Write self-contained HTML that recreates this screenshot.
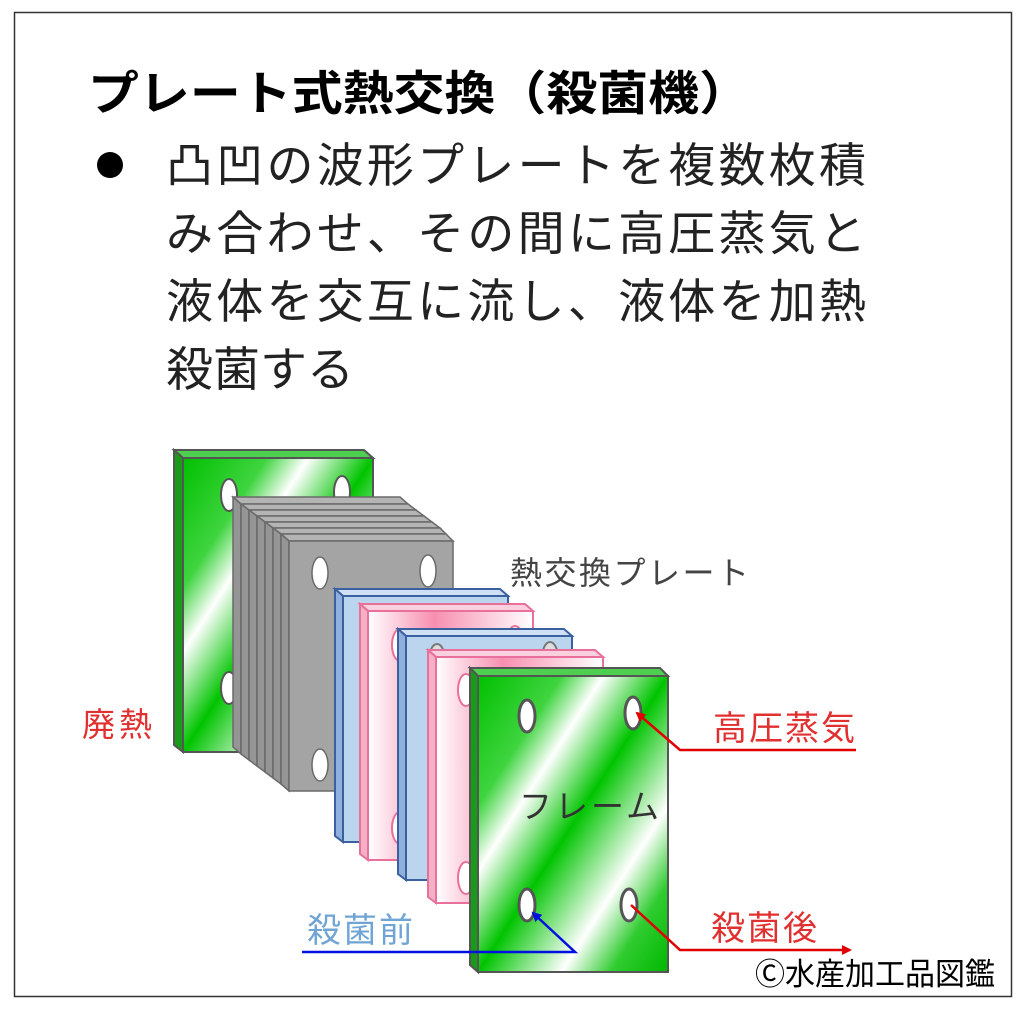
<!DOCTYPE html>
<html><head><meta charset="utf-8"><style>
html,body{margin:0;padding:0;background:#fff;}
svg{display:block;}
text{font-family:"Liberation Sans","Noto Sans CJK JP",sans-serif;}
</style></head><body>
<svg width="1024" height="1009" viewBox="0 0 1024 1009" xmlns="http://www.w3.org/2000/svg">
<defs>
<linearGradient id="g" x1="0" y1="0" x2="1" y2="1">
<stop offset="0" stop-color="#00c000"/><stop offset="0.22" stop-color="#3fd43f"/><stop offset="0.33" stop-color="#ffffff"/><stop offset="0.5" stop-color="#00c400"/><stop offset="0.72" stop-color="#ffffff"/><stop offset="0.85" stop-color="#30cc30"/><stop offset="1" stop-color="#00b800"/>
</linearGradient>
<linearGradient id="p" x1="0" y1="0" x2="1" y2="0">
<stop offset="0" stop-color="#ffffff"/><stop offset="0.4" stop-color="#f78fb0"/><stop offset="1" stop-color="#ffffff"/>
</linearGradient>
<marker id="ar" markerWidth="10" markerHeight="10" refX="8" refY="5" orient="auto" markerUnits="userSpaceOnUse"><path d="M0,0 L10,5 L0,10 z" fill="#e00000"/></marker>
<marker id="ab" markerWidth="10" markerHeight="10" refX="8" refY="5" orient="auto" markerUnits="userSpaceOnUse"><path d="M0,0 L10,5 L0,10 z" fill="#0010e0"/></marker>
</defs>
<rect x="14.5" y="12.5" width="997" height="984" fill="#fff" stroke="#333" stroke-width="1.5"/>
<text x="88" y="110" font-size="47" font-weight="bold" fill="#000" textLength="662" lengthAdjust="spacingAndGlyphs">プレート式熱交換（殺菌機）</text>
<circle cx="110" cy="165" r="13" fill="#000"/>
<g font-size="47" fill="#222">
<text x="166" y="182" textLength="700">凸凹の波形プレートを複数枚積</text>
<text x="166" y="250" textLength="700">み合わせ、その間に高圧蒸気と</text>
<text x="166" y="318" textLength="700">液体を交互に流し、液体を加熱</text>
<text x="166" y="386">殺菌する</text>
</g>

<g stroke="#555" stroke-width="2">
<polygon points="174,450 364,450 373,458 183,458" fill="#4fcf4f"/>
<polygon points="174,450 183,458 183,752 174,745" fill="#1a9a1a"/>
<rect x="183" y="458" width="190" height="294" fill="url(#g)"/>
<ellipse cx="229" cy="495" rx="8" ry="16" fill="#fff"/>
<ellipse cx="342" cy="492" rx="8" ry="16" fill="#fff"/>
<ellipse cx="229" cy="688" rx="8" ry="16" fill="#fff"/>
</g>
<g stroke="#6a6a6a" stroke-width="1.5" fill="#a8a8a8">
<polygon points="233,497 400,497 408,504 241,504" fill="#b4b4b4"/><polygon points="233,497 241,504 241,754 233,747" fill="#959595"/>
<polygon points="241,504 408,504 416,510 249,510" fill="#b4b4b4"/><polygon points="241,504 249,510 249,760 241,754" fill="#959595"/>
<polygon points="249,510 416,510 424,516 257,516" fill="#b4b4b4"/><polygon points="249,510 257,516 257,766 249,760" fill="#959595"/>
<polygon points="257,516 424,516 432,522 265,522" fill="#b4b4b4"/><polygon points="257,516 265,522 265,772 257,766" fill="#959595"/>
<polygon points="265,522 432,522 440,528 273,528" fill="#b4b4b4"/><polygon points="265,522 273,528 273,778 265,772" fill="#959595"/>
<polygon points="273,528 440,528 446,534 281,534" fill="#b4b4b4"/><polygon points="273,528 281,534 281,784 273,778" fill="#959595"/>
<polygon points="281,534 446,534 453,541 289,541" fill="#b4b4b4"/><polygon points="281,534 289,541 289,791 281,784" fill="#959595"/>
<rect x="289" y="541" width="164" height="250" fill="#a4a4a4"/>
<ellipse cx="320" cy="573" rx="8" ry="16" fill="#fff"/>
<ellipse cx="428" cy="571" rx="8" ry="16" fill="#fff"/>
<ellipse cx="320" cy="765" rx="8" ry="16" fill="#fff"/>
</g>
<g stroke="#3a60a0" stroke-width="2">
<polygon points="335,589 500,589 508,596 343,596" fill="#cfe0f4"/>
<polygon points="335,589 343,596 343,842 335,836" fill="#8fb0dc"/>
<rect x="343" y="596" width="165" height="246" fill="#bcd5ee"/>
</g>
<g stroke="#e8709a" stroke-width="2">
<polygon points="360,604 525,604 533,611 368,611" fill="#fbd0de"/>
<polygon points="360,604 368,611 368,860 360,854" fill="#f6b0c6"/>
<rect x="368" y="611" width="165" height="249" fill="url(#p)"/>
<ellipse cx="400" cy="645" rx="8" ry="16" fill="#fff"/>
<ellipse cx="400" cy="828" rx="8" ry="16" fill="#fff"/>
<ellipse cx="515" cy="642" rx="8" ry="16" fill="#fff"/>
</g>
<g stroke="#3a60a0" stroke-width="2">
<polygon points="398,629 564,629 572,636 406,636" fill="#cfe0f4"/>
<polygon points="398,629 406,636 406,880 398,874" fill="#8fb0dc"/>
<rect x="406" y="636" width="166" height="244" fill="#bcd5ee"/>
<ellipse cx="437" cy="660" rx="8" ry="16" fill="#ddd" stroke="#777"/>
<ellipse cx="437" cy="850" rx="8" ry="16" fill="#ddd" stroke="#777"/>
<ellipse cx="550" cy="658" rx="8" ry="16" fill="#ddd" stroke="#777"/>
</g>
<g stroke="#e8709a" stroke-width="2">
<polygon points="428,650 595,650 603,657 436,657" fill="#fbd0de"/>
<polygon points="428,650 436,657 436,903 428,897" fill="#f6b0c6"/>
<rect x="436" y="657" width="167" height="246" fill="url(#p)"/>
<ellipse cx="466" cy="690" rx="8" ry="16" fill="#fff"/>
<ellipse cx="466" cy="878" rx="8" ry="16" fill="#fff"/>
</g>
<g stroke="#555" stroke-width="2">
<polygon points="470,668 660,668 668,676 478,676" fill="#4fcf4f"/>
<polygon points="470,668 478,676 478,972 470,965" fill="#1a9a1a"/>
<rect x="478" y="676" width="190" height="296" fill="url(#g)"/>
<ellipse cx="527" cy="716" rx="8" ry="16" fill="#fff" stroke-width="3"/>
<ellipse cx="633" cy="713" rx="8" ry="16" fill="#fff" stroke-width="3"/>
<ellipse cx="527" cy="905" rx="8" ry="16" fill="#fff" stroke-width="3"/>
<ellipse cx="629" cy="905" rx="8" ry="16" fill="#fff" stroke-width="3"/>
</g>
<text x="519" y="818" font-size="33" fill="#333" letter-spacing="3">フレーム</text>

<polyline points="856,750 680,750 637,713" fill="none" stroke="#e00000" stroke-width="2.5" marker-end="url(#ar)"/>
<polyline points="631,905 680,950 850,950" fill="none" stroke="#e00000" stroke-width="2.5" marker-end="url(#ar)"/>
<polyline points="302,952 575,952 533,913" fill="none" stroke="#0010e0" stroke-width="2.5" marker-end="url(#ab)"/>

<text x="510" y="584" font-size="32" fill="#444" letter-spacing="2.5">熱交換プレート</text>
<text x="82" y="736" font-size="33" fill="#e03030" letter-spacing="4">廃熱</text>
<text x="713" y="740" font-size="34" fill="#e03030" letter-spacing="2">高圧蒸気</text>
<text x="711" y="940" font-size="34" fill="#e03030" letter-spacing="2">殺菌後</text>
<text x="307" y="942" font-size="34" fill="#70a4d4" letter-spacing="2">殺菌前</text>
<text x="755" y="985" font-size="31" fill="#000" font-family="'Liberation Serif','Noto Serif CJK JP',serif" textLength="240" lengthAdjust="spacingAndGlyphs">Ⓒ水産加工品図鑑</text>
</svg>
</body></html>
